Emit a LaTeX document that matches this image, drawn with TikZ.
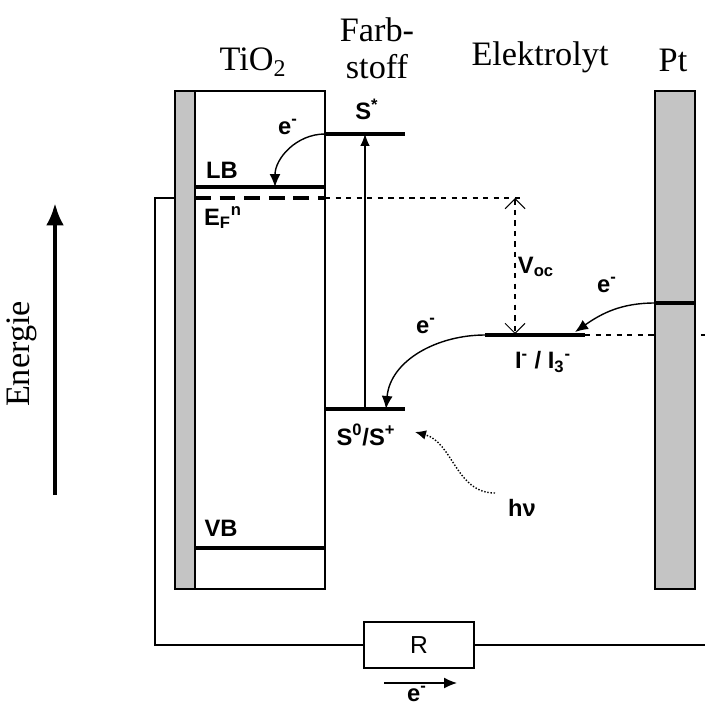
\documentclass[tikz,border=0pt]{standalone}
\usepackage{fontspec}
\setmainfont{Liberation Serif}
\setsansfont{Liberation Sans}
\usetikzlibrary{positioning,arrows.meta}
\definecolor{bargray}{RGB}{196,196,196}

\begin{document}
\begin{tikzpicture}[
    x=0.02cm,
    y=-0.02cm,
    head/.style={
        font=\fontsize{19.5}{21}\selectfont,
        align=center,
        inner sep=0pt
    },
    lbl/.style={
        font=\sffamily\bfseries\fontsize{13.5}{15}\selectfont,
        inner sep=1pt
    },
    level/.style={
        line width=2.3pt
    },
    electrode/.style={
        draw,
        semithick,
        fill=bargray
    },
    arr/.style={
        -{Latex[length=2.6mm,width=2.2mm]},
        thick
    }
]

\useasboundingbox (0,0) rectangle (705,706);

% ============================================================
% ELECTRODES AND TiO2
% ============================================================

\draw[dashed, semithick] (585,335) -- (705,335);

\draw[electrode] (175,91) rectangle (195,589);
\draw[semithick] (195,91) rectangle (325,589);
\draw[electrode] (655,91) rectangle (695,589);

\node[head] (tio) at (253,62) {TiO\textsubscript{2}};
\node[head] (dye) at (377,48) {Farb-\\stoff};
\node[head] (elec) at (540,57) {Elektrolyt};
\node[head] (pt) at (673,60) {Pt};

% ============================================================
% ENERGY LEVELS
% ============================================================

\coordinate (lb-l) at (195,187);
\coordinate (lb-r) at (325,187);
\coordinate (lb-hit) at (275,187);
\coordinate (vb-l) at (195,548);
\coordinate (vb-r) at (325,548);
\coordinate (ef-l) at (195,198);
\coordinate (ef-m) at (325,198);
\coordinate (ef-r) at (524,198);
\coordinate (ss-l) at (325,134);
\coordinate (ss-r) at (405,134);
\coordinate (ss-hit) at (365,134);
\coordinate (s0-l) at (326,409);
\coordinate (s0-r) at (405,409);
\coordinate (s0-hit) at (386,409);
\coordinate (s0-up) at (365,409);
\coordinate (red-l) at (485,335);
\coordinate (red-r) at (585,335);
\coordinate (red-hit) at (575,332);
\coordinate (voc-top) at (515,198);
\coordinate (voc-bot) at (515,334);
\coordinate (pt-l) at (655,303);
\coordinate (pt-r) at (695,303);

\draw[level] (lb-l) -- (lb-r);
\draw[level] (vb-l) -- (vb-r);
\draw[level] (ss-l) -- (ss-r);
\draw[level] (s0-l) -- (s0-r);
\draw[level] (red-l) -- (red-r);
\draw[level] (pt-l) -- (pt-r);
\draw[line width=2pt, dash pattern=on 9pt off 5pt] (ef-l) -- (ef-m);
\draw[dashed, semithick] (ef-m) -- (ef-r);

\node[lbl] (lb) at (222,170) {LB};
\node[lbl] (vb) at (221,528) {VB};
\node[lbl] (ef) at (223,218) {E\textsubscript{F}\textsuperscript{n}};
\node[lbl] (ss) at (367,109) {S\textsuperscript{*}};
\node[lbl] (s0) at (366,435) {S\textsuperscript{0}/S\textsuperscript{+}};
\node[lbl] (red) at (543,362) {I\textsuperscript{-} / I\textsubscript{3}\textsuperscript{-}};
\node[lbl] (voc) at (536,267) {V\textsubscript{oc}};
\node[lbl] (hv) at (522,508) {hν};

% ============================================================
% TRANSFERS
% ============================================================

\draw[-{Latex[length=2.4mm,width=1.9mm]}, semithick] (s0-up) -- (ss-hit);
\draw[arr] (ss-l) to[out=180,in=90] (lb-hit);
\draw[arr] (red-l) to[out=180,in=85] (s0-hit);
\draw[arr] (pt-l) to[out=180,in=35] (red-hit);
\draw[{Straight Barb[length=2mm]}-{Straight Barb[length=2mm]}, dashed, semithick]
    (voc-top) -- (voc-bot);
\draw[-{Latex[length=2.2mm,width=1.9mm]}, thick, densely dotted]
    (495,493) to[out=180,in=-15] (415,432);

\node[lbl] (e1) at (288,127) {e\textsuperscript{-}};
\node[lbl] (e2) at (426,326) {e\textsuperscript{-}};
\node[lbl] (e3) at (607,285) {e\textsuperscript{-}};

% ============================================================
% CIRCUIT
% ============================================================

\node[draw, semithick, minimum width=2.2cm, minimum height=0.92cm,
      font=\sffamily\fontsize{14}{16}\selectfont] (res) at (419,645) {R};

\coordinate (wire-l) at (175,198);
\coordinate (wire-r) at (705,645);
\draw[semithick] (wire-l) -- (155,198) |- (res.west);
\draw[semithick] (res.east) -- (wire-r);

\coordinate (flow-l) at (384,683);
\coordinate (flow-r) at (457,683);
\draw[arr] (flow-l) -- (flow-r);
\node[lbl, inner sep=0pt] (e4) at (417,694) {e\textsuperscript{-}};

% ============================================================
% ENERGY AXIS
% ============================================================

\coordinate (en-bot) at (55,495);
\coordinate (en-top) at (55,203);
\draw[-{Latex[length=4.5mm,width=3.6mm]}, line width=2.4pt] (en-bot) -- (en-top);
\node[head, rotate=90] (energy) at (22,354) {Energie};

\end{tikzpicture}
\end{document}
